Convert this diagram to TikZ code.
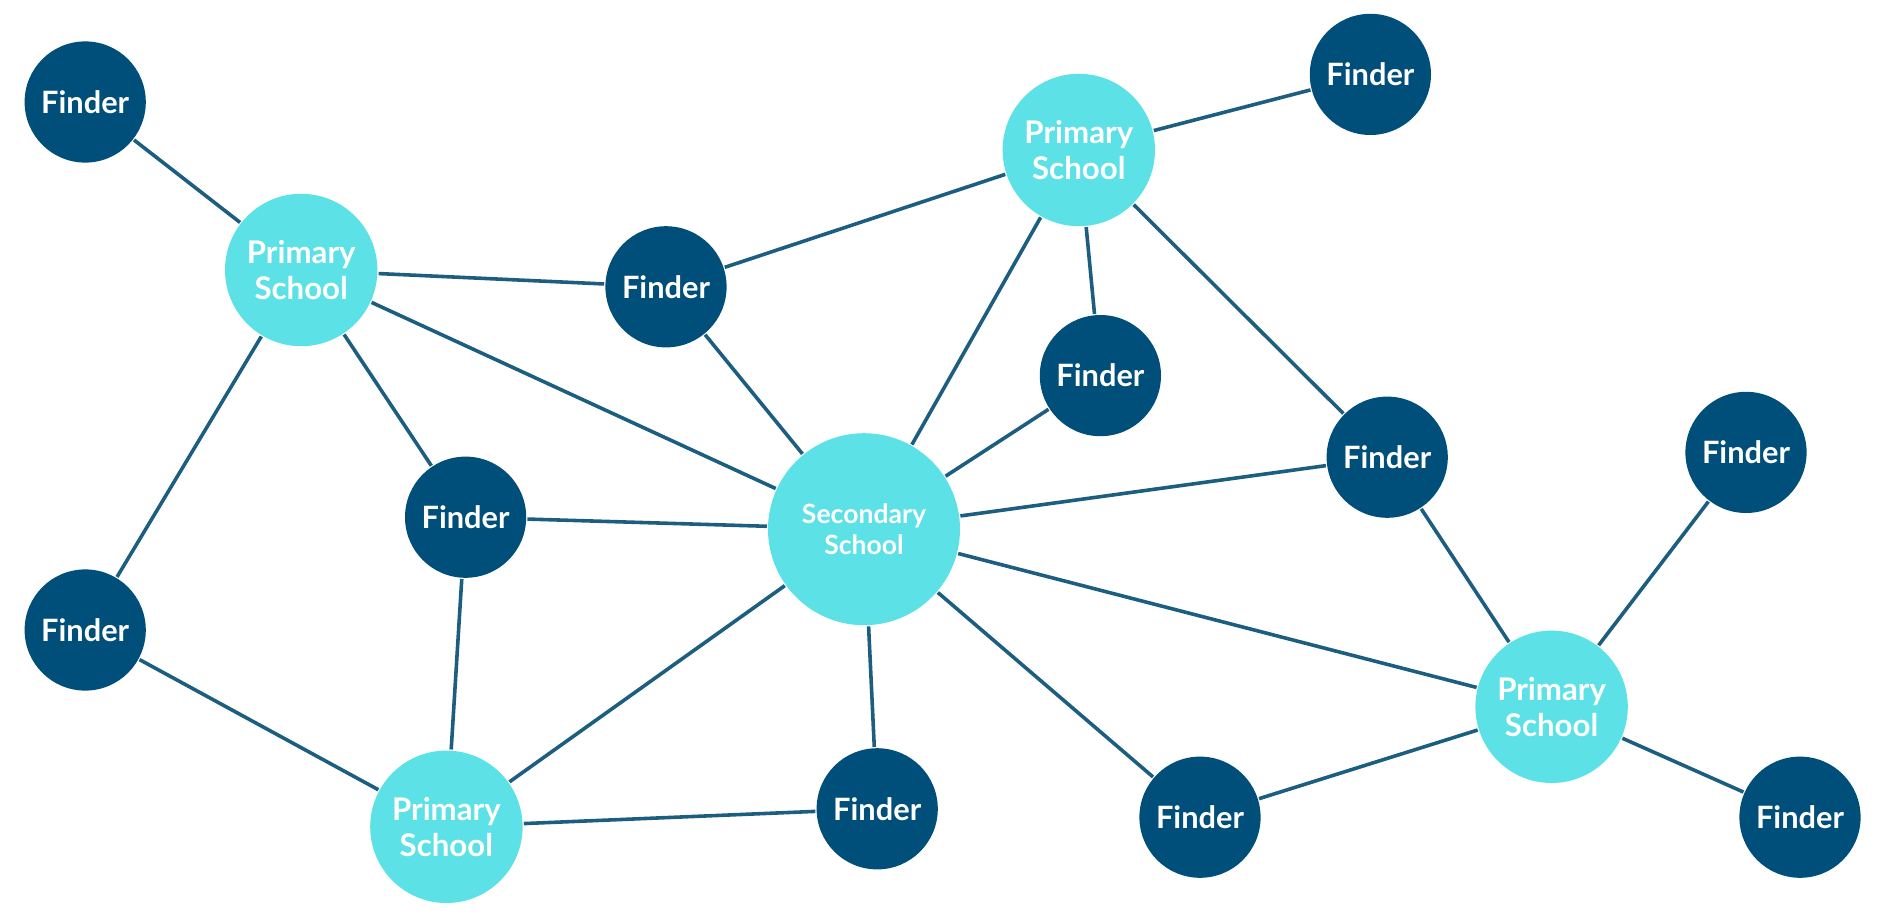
\documentclass[tikz,border=0pt]{standalone}
\usepackage{fontspec}
\setmainfont{Lato}
\usepackage{tikz}
\usetikzlibrary{positioning}
\definecolor{finderblue}{RGB}{0,78,122}
\definecolor{schoolcyan}{RGB}{92,225,230}
\definecolor{linkblue}{RGB}{28,94,128}
\tikzset{finder node/.style={circle,fill=finderblue,text=white,minimum size=1.01cm,inner sep=0pt,font=\fontsize{7.3}{9}\selectfont\bfseries},
primary node/.style={circle,fill=schoolcyan,text=white,minimum size=1.27cm,inner sep=0pt,align=center,font=\fontsize{7.4}{8.6}\selectfont\bfseries},
secondary node/.style={circle,fill=schoolcyan,text=white,minimum size=1.6cm,inner sep=0pt,align=center,font=\fontsize{6.3}{7.3}\selectfont\bfseries},}

\begin{document}
\begin{tikzpicture}[auto,semithick]
	\useasboundingbox (0,0) rectangle (15.70,-7.68);
		\node[secondary node] (s) at (7.20,-4.41) {Secondary\\School};
		\node[primary node] (p1) at (2.51,-2.25) {Primary\\School};
		\node[primary node] (p2) at (8.99,-1.25) {Primary\\School};
		\node[primary node] (p3) at (12.93,-5.89) {Primary\\School};
		\node[primary node] (p4) at (3.72,-6.89) {Primary\\School};
		\node[finder node] (f1) at (0.71,-0.85) {Finder};
		\node[finder node] (f2) at (11.42,-0.62) {Finder};
		\node[finder node] (f3) at (5.55,-2.39) {Finder};
		\node[finder node] (f4) at (9.17,-3.13) {Finder};
		\node[finder node] (f5) at (11.56,-3.81) {Finder};
		\node[finder node] (f6) at (14.55,-3.77) {Finder};
		\node[finder node] (f7) at (3.88,-4.31) {Finder};
		\node[finder node] (f8) at (0.71,-5.25) {Finder};
		\node[finder node] (f9) at (7.31,-6.74) {Finder};
		\node[finder node] (f10) at (10.00,-6.81) {Finder};
		\node[finder node] (f11) at (15.00,-6.81) {Finder};

	    \path[draw,linkblue,line width=0.85pt]
	    (f1) edge (p1)
	    (p1) edge (f3)
	    (p1) edge (s)
	    (p1) edge (f7)
	    (p1) edge (f8)
	    (f3) edge (p2)
	    (f3) edge (s)
	    (p2) edge (f2)
	    (p2) edge (s)
	    (p2) edge (f4)
	    (p2) edge (f5)
	    (f4) edge (s)
	    (f5) edge (s)
	    (f5) edge (p3)
	    (f7) edge (s)
	    (f7) edge (p4)
	    (f8) edge (p4)
	    (s) edge (p4)
	    (s) edge (f9)
	    (s) edge (f10)
	    (s) edge (p3)
	    (p4) edge (f9)
	    (f10) edge (p3)
	    (p3) edge (f6)
	    (p3) edge (f11);
	\end{tikzpicture}
\end{document}
